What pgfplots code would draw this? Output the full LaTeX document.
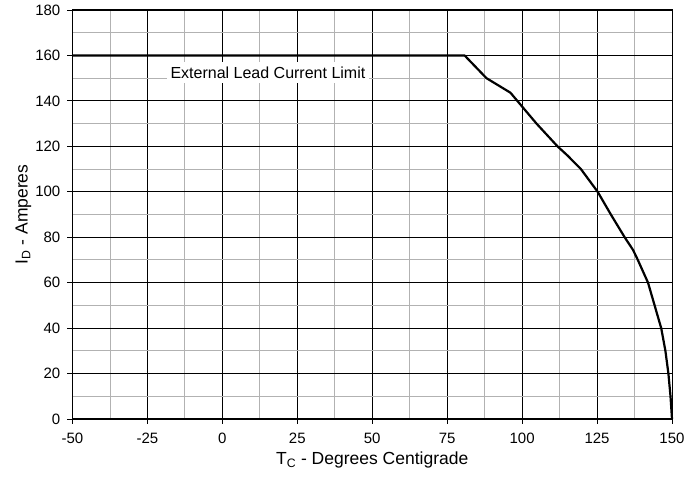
\documentclass[border=0pt]{standalone}
\usepackage{fontspec}
\setmainfont{Liberation Sans}
\usepackage{pgfplots}
\pgfplotsset{compat=1.18}
\begin{document}
\fontsize{15}{18}\selectfont
\begin{tikzpicture}
\begin{axis}[
  scale only axis,
  width=599.5pt, height=409pt,
  xmin=-50, xmax=150, ymin=0, ymax=180,
  xtick={-50,-25,...,150}, ytick={0,20,...,180},
  minor x tick num=1, minor y tick num=1,
  grid=both,
  major grid style={black, line width=0.8pt},
  minor grid style={black!30, line width=0.9pt},
  axis line style={black, line width=1pt},
  tick align=outside, tick pos=left,
  major tick length=5pt, minor tick length=0pt,
  every tick/.style={black, line width=0.8pt},
  /pgf/number format/assume math mode=true,
  ticklabel style={font=\fontsize{15}{18}\selectfont},
  xticklabel style={yshift=-7.5pt, inner ysep=1pt},
  yticklabel style={xshift=-2pt},
  xlabel={T\textsubscript{C} - Degrees Centigrade},
  ylabel={I\textsubscript{D} - Amperes},
  label style={font=\fontsize{17.5}{20}\selectfont},
  xlabel style={at={(axis description cs:0.5,0)}, anchor=base, yshift=-46pt, inner sep=0pt},
  ylabel style={at={([xshift=-49pt]axis description cs:0,0.5)}, anchor=center},
  clip=false,
]
\addplot[black, line width=2.2pt, line join=round] coordinates {
(-50,160) (80.8,160) (88.1,150) (96.1,143.6) (98.4,140) (104.8,130) (111.8,120)
(115.1,116) (119.6,110) (125.2,100) (129.6,90) (134.2,80) (137,74.4) (138.6,70)
(142,60) (144.2,50) (145.6,43.6) (146.4,40) (147.8,30) (148.8,20) (149.5,10) (150,0)
};
\node[fill=white, inner xsep=4pt, inner ysep=5pt, font=\fontsize{16}{19}\selectfont] at (axis cs:15.2,152.5) {External Lead Current Limit};
\end{axis}
\pgfresetboundingbox
\path (-72.5pt,-59pt) rectangle (613.5pt,419pt);
\end{tikzpicture}
\end{document}
